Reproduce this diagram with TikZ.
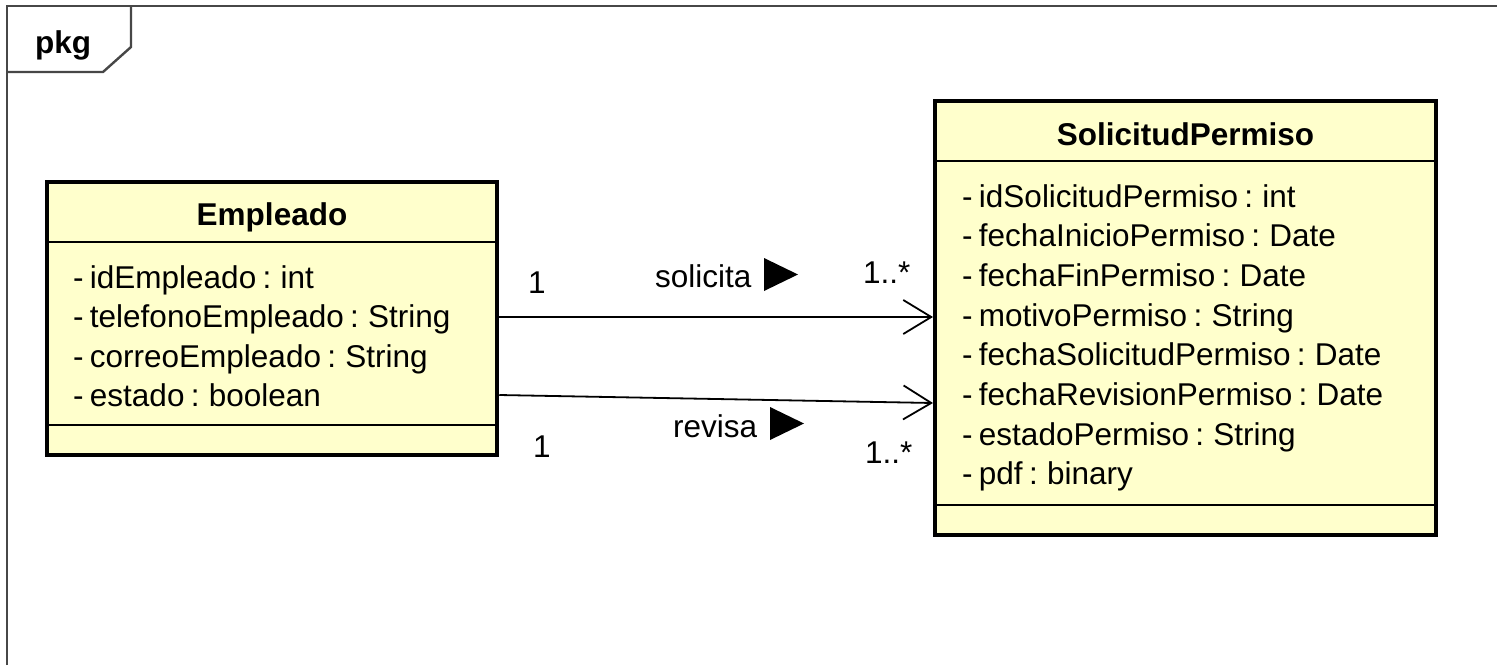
\documentclass[tikz,border=0pt]{standalone}
\usepackage{fontspec}
\setmainfont{Liberation Sans}
\usetikzlibrary{arrows.meta}
\definecolor{classfill}{HTML}{FFFFCC}
\definecolor{framegray}{HTML}{474747}
\newcommand{\umlfont}{\fontsize{31.5}{36}\selectfont\spaceskip=0.2em\relax}
\tikzset{
  classbox/.style={draw=black, line width=4.5pt, fill=classfill, inner sep=0pt},
  sepline/.style={draw=black, line width=1.8pt},
  attr/.style={anchor=base west, inner sep=0pt, font=\umlfont},
  cname/.style={anchor=base, inner sep=0pt, font=\umlfont\bfseries},
  lbl/.style={anchor=base, inner sep=0pt, font=\umlfont},
  lblw/.style={anchor=base west, inner sep=0pt, font=\umlfont},
  assoc/.style={draw=black, line width=1.8pt, -{Straight Barb[length=28pt,width=34pt,line width=1.8pt]}},
  frameline/.style={draw=framegray, line width=2.4pt},
  dirtri/.style={fill=black}
}
\begin{document}
\begin{tikzpicture}[x=1pt,y=-1pt]
\useasboundingbox (0,0) rectangle (1497,665);
\fill[white] (0,0) rectangle (1497,665);
% package frame
\draw[frameline] (7,665) -- (7,6) -- (1497,6);
\draw[frameline] (7,72) -- (103,72) -- (131,47) -- (131,6);
\node[anchor=base west, inner sep=0pt, font=\umlfont\bfseries] (pkg) at (35,53) {pkg};

% Empleado
\node[classbox, minimum width=450pt, minimum height=273pt] (emp) at (272,318.5) {};
\draw[sepline] (47,242) -- (497,242);
\draw[sepline] (47,425) -- (497,425);
\node[cname] (empname) at (272,225) {Empleado};
\node[attr] (ea1) at (73,288) {- idEmpleado : int};
\node[attr] (ea2) at (73,327.5) {- telefonoEmpleado : String};
\node[attr] (ea3) at (73,367) {- correoEmpleado : String};
\node[attr] (ea4) at (73,406.5) {- estado : boolean};

% SolicitudPermiso
\node[classbox, minimum width=501pt, minimum height=434pt] (sp) at (1185.5,318) {};
\draw[sepline] (935,161) -- (1436,161);
\draw[sepline] (935,505) -- (1436,505);
\node[cname] (spname) at (1185.5,145) {SolicitudPermiso};
\node[attr] (sa1) at (962,207) {- idSolicitudPermiso : int};
\node[attr] (sa2) at (962,246.7) {- fechaInicioPermiso : Date};
\node[attr] (sa3) at (962,286.4) {- fechaFinPermiso : Date};
\node[attr] (sa4) at (962,326.1) {- motivoPermiso : String};
\node[attr] (sa5) at (962,365.8) {- fechaSolicitudPermiso : Date};
\node[attr] (sa6) at (962,405.5) {- fechaRevisionPermiso : Date};
\node[attr] (sa7) at (962,445.2) {- estadoPermiso : String};
\node[attr] (sa8) at (962,484.9) {- pdf : binary};

% connectors
\coordinate (s1a) at (emp.east |- 0,317);
\coordinate (s1b) at (933,317);
\coordinate (s2a) at (emp.east |- 0,395);
\coordinate (s2b) at (933,403);
\draw[assoc] (s1a) -- (s1b);
\draw[assoc] (s2a) -- (s2b);

% labels
\node[lbl] (m1a) at (537,293) {1};
\node[lblw] (l1) at (655,287) {solicita};
\fill[dirtri] (764,258) -- (798,274.5) -- (764,291) -- cycle;
\node[lblw] (m1b) at (863,283) {1..*};

\node[lbl] (m2a) at (542,457) {1};
\node[lblw] (l2) at (673,437) {revisa};
\fill[dirtri] (770,407) -- (804,423.5) -- (770,440) -- cycle;
\node[lblw] (m2b) at (865,463) {1..*};
\end{tikzpicture}
\end{document}
